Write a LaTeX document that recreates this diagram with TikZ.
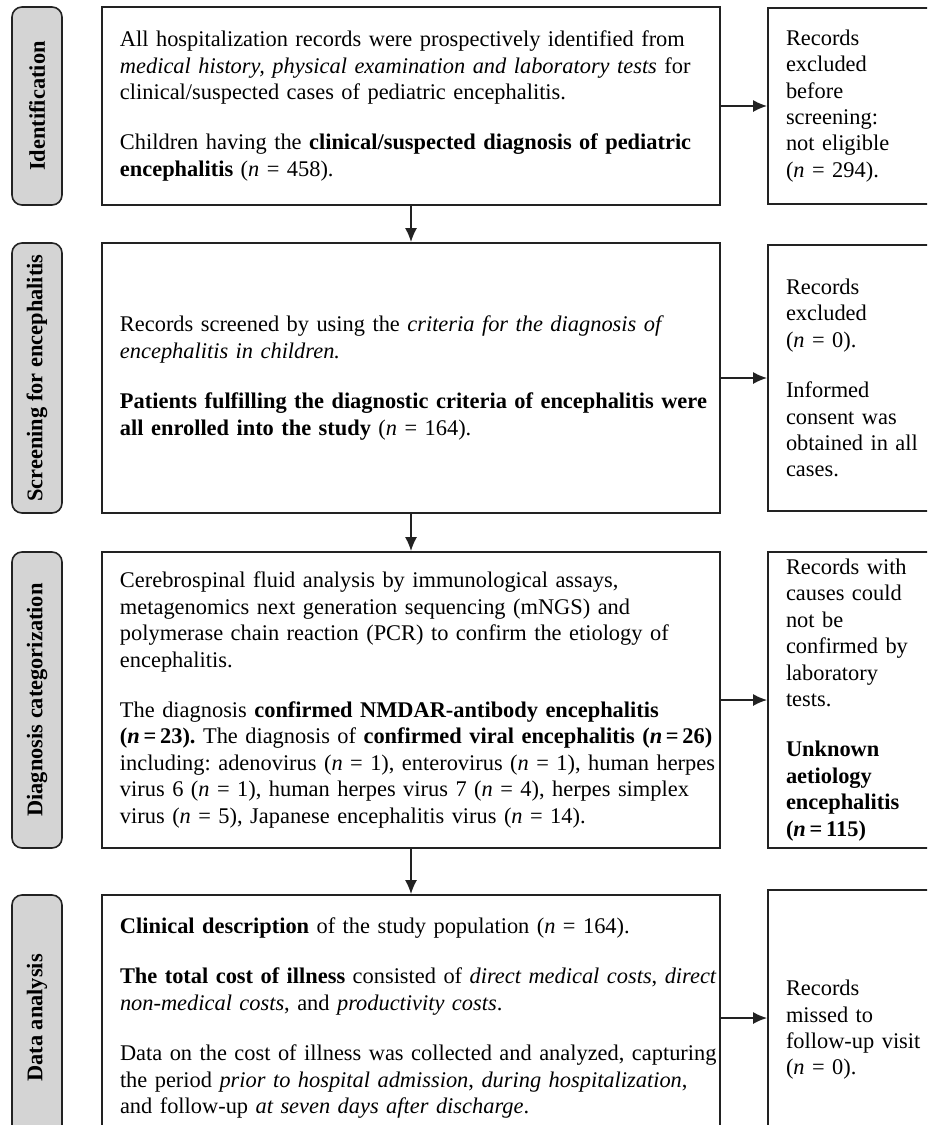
\documentclass[tikz,border=0pt]{standalone}
\usepackage{fontspec}
\setmainfont{Liberation Serif}
\usetikzlibrary{arrows.meta,positioning}

\begin{document}
\begin{tikzpicture}[
    x=0.5pt, y=-0.5pt,
    every node/.style={font=\fontsize{11.2}{13.2}\selectfont\frenchspacing},
    stage/.style={draw=bord, fill=stagegray, rounded corners=5pt, line width=0.8pt, rotate=90,
      minimum width=#1, minimum height=25pt, inner sep=0pt, font=\fontsize{11.2}{13.2}\selectfont\bfseries},
    mainbox/.style={draw=bord, line width=0.9pt, minimum height=#1, text width=309pt, inner xsep=0pt,
      align=left, execute at begin node={\leftskip=9pt\relax}},
    sidebox/.style={draw=bord, line width=0.9pt, minimum height=#1, text width=100pt, inner xsep=0pt, inner ysep=2pt,
      align=left, execute at begin node={\leftskip=9pt\relax}},
    arr/.style={-{Latex[length=7pt, width=6pt]}, line width=0.8pt, bord},
  ]
    \definecolor{stagegray}{HTML}{D4D4D4}
    \definecolor{bord}{HTML}{222222}

    \useasboundingbox (0,0) rectangle (927,1125);
    \clip (0,0) rectangle (927,1125);

    % stage labels on the left
    \node[stage=99pt]  (S1) at (37,106)  {Identification};
    \node[stage=135pt] (S2) at (37,378)  {Screening for encephalitis};
    \node[stage=148pt] (S3) at (37,700)  {Diagnosis categorization};
    \node[stage=123pt] (S4) at (37,1018) {Data analysis};

    % main column
    \node[mainbox=99pt] (B1) at (411,106) {All hospitalization records were prospectively identified from\\
      \textit{medical history, physical examination and laboratory tests} for\\
      clinical/suspected cases of pediatric encephalitis.\\[12pt]
      Children having the \textbf{clinical/suspected diagnosis of pediatric}\\
      \textbf{encephalitis} (\textit{n} = 458).};

    \node[mainbox=135pt] (B2) at (411,378) {Records screened by using the \textit{criteria for the diagnosis of}\\
      \textit{encephalitis in children.}\\[12pt]
      \textbf{Patients fulfilling the diagnostic criteria of encephalitis were}\\
      \textbf{all enrolled into the study} (\textit{n} = 164).};

    \node[mainbox=148pt] (B3) at (411,700) {Cerebrospinal fluid analysis by immunological assays,\\
      metagenomics next generation sequencing (mNGS) and\\
      polymerase chain reaction (PCR) to confirm the etiology of\\
      encephalitis.\\[12pt]
      The diagnosis \textbf{confirmed NMDAR-antibody encephalitis}\\
      \mbox{\textbf{(\textit{n}\,=\,23).} The diagnosis of \textbf{confirmed viral encephalitis (\textit{n}\,=\,26)}}\\
      including: adenovirus (\textit{n} = 1), enterovirus (\textit{n} = 1), human herpes\\
      virus 6 (\textit{n} = 1), human herpes virus 7 (\textit{n} = 4), herpes simplex\\
      virus (\textit{n} = 5), Japanese encephalitis virus (\textit{n} = 14).};

    \node[mainbox=123pt] (B4) at (411,1018) {\textbf{Clinical description} of the study population (\textit{n} = 164).\\[12pt]
      \textbf{The total cost of illness} consisted of \textit{direct medical costs}, \textit{direct}\\
      \textit{non-medical costs}, and \textit{productivity costs}.\\[12pt]
      Data on the cost of illness was collected and analyzed, capturing\\
      the period \textit{prior to hospital admission}, \textit{during hospitalization},\\
      and follow-up \textit{at seven days after discharge}.};

    % exclusion boxes on the right
    \node[sidebox=98pt] (R1) at (868,106) {Records\\ excluded\\ before\\ screening:\\ not eligible\\ (\textit{n} = 294).};
    \node[sidebox=133pt] (R2) at (868,378) {Records\\ excluded\\ (\textit{n} = 0).\\[12pt]
      Informed\\ consent was\\ obtained in all\\ cases.};
    \node[sidebox=148pt] (R3) at (868,700) {Records with\\ causes could\\ not be\\ confirmed by\\ laboratory\\ tests.\\[12pt]
      \textbf{Unknown}\\ \textbf{aetiology}\\ \textbf{encephalitis}\\ \textbf{(\textit{n}\,=\,115)}};
    \node[sidebox=140pt] (R4) at (868,1030) {Records\\ missed to\\ follow-up visit\\ (\textit{n} = 0).};

    % arrows
    \draw[arr] (B1) -- (B2);
    \draw[arr] (B2) -- (B3);
    \draw[arr] (B3) -- (B4);
    \draw[arr] (B1) -- (R1);
    \draw[arr] (B2) -- (R2);
    \draw[arr] (B3) -- (R3);
    \draw[arr] (B4.east) -- (B4.east -| R4.west);
  \end{tikzpicture}
\end{document}
